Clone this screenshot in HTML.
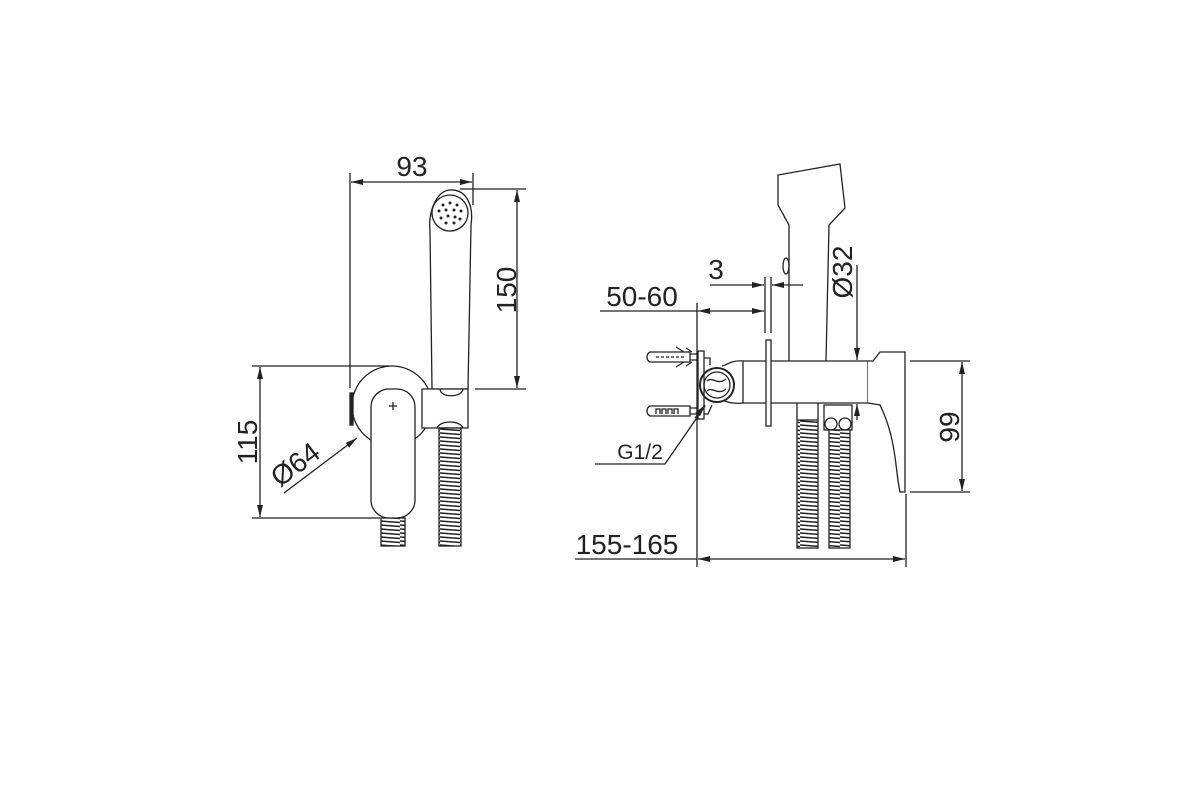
<!DOCTYPE html>
<html><head><meta charset="utf-8"><style>
html,body{margin:0;padding:0;background:#fff;}
svg{display:block}
text{font-family:"Liberation Sans",Arial,sans-serif;fill:#222;}
</style></head><body>
<svg width="1200" height="800" viewBox="0 0 1200 800" xmlns="http://www.w3.org/2000/svg">
<defs>
<marker id="a" viewBox="0 0 12 6" refX="12" refY="3" markerWidth="12" markerHeight="6" orient="auto-start-reverse" markerUnits="userSpaceOnUse"><path d="M0,0 L12,3 L0,6 z" fill="#222"/></marker>
<pattern id="hose" width="20" height="4" patternUnits="userSpaceOnUse"><rect width="20" height="4" fill="#fff"/><line x1="0" y1="1" x2="20" y2="2.5" stroke="#222" stroke-width="1.5"/></pattern>
</defs>
<g stroke="#222" stroke-width="1.3" fill="none">
<!-- LEFT VIEW -->
<line x1="350" y1="173" x2="350" y2="388"/>
<line x1="473" y1="173" x2="473" y2="205"/>
<line x1="351" y1="182" x2="472" y2="182" marker-start="url(#a)" marker-end="url(#a)"/>
<line x1="460" y1="189" x2="526" y2="189"/>
<line x1="475" y1="389" x2="526" y2="389"/>
<line x1="517" y1="190" x2="517" y2="388" marker-start="url(#a)" marker-end="url(#a)"/>
<path d="M430,230 C428,215 435,191 450,190 C466,189 474,205 471,225 L468,389 L432,389 Z" fill="#fff"/>
<circle cx="450" cy="213" r="18"/>
<g fill="#222" stroke="none">
<circle cx="450" cy="203" r="1.5"/><circle cx="443" cy="205" r="1.5"/><circle cx="457" cy="205" r="1.5"/>
<circle cx="439" cy="211" r="1.5"/><circle cx="446" cy="210" r="1.5"/><circle cx="454" cy="210" r="1.5"/><circle cx="461" cy="211" r="1.5"/>
<circle cx="441" cy="218" r="1.5"/><circle cx="448" cy="216" r="1.5"/><circle cx="455" cy="217" r="1.5"/><circle cx="460" cy="219" r="1.5"/>
<circle cx="446" cy="223" r="1.5"/><circle cx="454" cy="223" r="1.5"/>
</g>
<line x1="252" y1="366" x2="390" y2="366"/>
<line x1="252" y1="518" x2="380" y2="518"/>
<line x1="260" y1="367" x2="260" y2="517" marker-start="url(#a)" marker-end="url(#a)"/>
<circle cx="392" cy="406" r="40" fill="#fff"/>
<rect x="350" y="393" width="3" height="32" fill="#222"/>
<path d="M422,389 L468,389 L468,428 L422,428 Z" fill="#fff"/>
<path d="M440,389 C440,398 462,398 463,389"/>
<path d="M437,428 C440,420 460,420 463,428"/>
<rect x="439" y="428" width="22" height="118" fill="url(#hose)"/>
<rect x="381" y="518" width="24" height="28" fill="url(#hose)"/>
<rect x="371" y="389" width="44" height="129" rx="18" fill="#fff"/>
<line x1="389" y1="406" x2="397" y2="406"/><line x1="393" y1="402" x2="393" y2="410"/>
<line x1="284" y1="493" x2="357" y2="438" marker-end="url(#a)"/>

<!-- RIGHT VIEW -->
<path d="M789,361 L789,225 L778,205 L778,175 L840,164 L845,208 L829,225 L826,361"/>
<ellipse cx="786" cy="266" rx="3" ry="8"/>
<path d="M743,361 L868,361 L868,403 L743,403 Z" fill="#fff"/>
<path d="M743,361 C730,360 728,365 722,366 M743,403 C730,404 728,402 722,400"/>
<rect x="766" y="340" width="5" height="86" fill="#fff"/>
<path d="M868,361 L873,361 L880,352 L905,352 L905,492 L900,492 C895,470 897,440 880,405 L868,403" fill="#fff"/>
<circle cx="717" cy="385" r="17" fill="#fff" stroke-width="2"/>
<circle cx="717" cy="385" r="13"/>
<path d="M707,381 C712,376 718,386 726,379 M707,391 C712,386 718,396 726,389"/>
<rect x="698" y="351" width="6" height="68"/>
<path d="M704,358 L710,358 L710,365 M704,414 L708,414 L712,405"/>
<path d="M650,352 L690,352 L690,362 L650,362 C646,360 646,354 650,352 Z"/>
<path d="M656,357 L686,357" stroke-dasharray="3,2"/>
<path d="M676,347 L684,352 M676,367 L684,362 M686,348 L692,352 M686,366 L692,362"/>
<path d="M690,354 L698,354 M690,360 L698,360"/>
<path d="M650,406 L690,406 L690,416 L650,416 C646,414 646,408 650,406 Z"/>
<path d="M656,414 L656,409 L660,409 L660,414 M662,414 L662,409 L666,409 L666,414 M668,414 L668,409 L672,409 L672,414 M674,414 L674,409 L678,409 L678,414"/>
<path d="M690,408 L698,408 M690,414 L698,414"/>
<rect x="797" y="420" width="21" height="128" fill="url(#hose)"/>
<path d="M797,403 L797,420 M818,403 L818,420"/>
<rect x="824" y="405" width="28" height="25" fill="#fff"/>
<circle cx="831" cy="424" r="6"/><circle cx="845" cy="424" r="6"/>
<rect x="829" y="430" width="21" height="118" fill="url(#hose)"/>
<line x1="765" y1="277" x2="765" y2="333"/>
<line x1="771" y1="277" x2="771" y2="333"/>
<line x1="710" y1="285" x2="764" y2="285" marker-end="url(#a)"/>
<line x1="803" y1="285" x2="772" y2="285" marker-end="url(#a)"/>
<line x1="600" y1="311" x2="698" y2="311"/>
<line x1="698" y1="311" x2="764" y2="311" marker-start="url(#a)" marker-end="url(#a)"/>
<line x1="697" y1="303" x2="697" y2="567"/>
<line x1="906" y1="494" x2="906" y2="567"/>
<line x1="575" y1="559" x2="697" y2="559"/>
<line x1="698" y1="559" x2="905" y2="559" marker-start="url(#a)" marker-end="url(#a)"/>
<line x1="910" y1="361" x2="970" y2="361"/>
<line x1="910" y1="492" x2="970" y2="492"/>
<line x1="962" y1="362" x2="962" y2="491" marker-start="url(#a)" marker-end="url(#a)"/>
<line x1="857" y1="265" x2="857" y2="360" marker-end="url(#a)"/>
<line x1="857" y1="420" x2="857" y2="404" marker-end="url(#a)"/>
<path d="M595,464 L665,464 L705,406" />
<line x1="695" y1="418" x2="705" y2="405" marker-end="url(#a)"/>
</g>
<g font-size="28">
<text x="412" y="176" text-anchor="middle">93</text>
<text transform="translate(516,290) rotate(-90)" text-anchor="middle">150</text>
<text transform="translate(257,442) rotate(-90)" text-anchor="middle">115</text>
<text transform="translate(301,472) rotate(-37)" text-anchor="middle">Ø64</text>
<text x="716" y="279" text-anchor="middle">3</text>
<text x="642" y="306" text-anchor="middle">50-60</text>
<text transform="translate(852,272) rotate(-90)" text-anchor="middle">Ø32</text>
<text transform="translate(959,427) rotate(-90)" text-anchor="middle">99</text>
<text x="627" y="554" text-anchor="middle">155-165</text>
</g>
<text x="640" y="459" font-size="21" text-anchor="middle">G1/2</text>
</svg>
</body></html>
